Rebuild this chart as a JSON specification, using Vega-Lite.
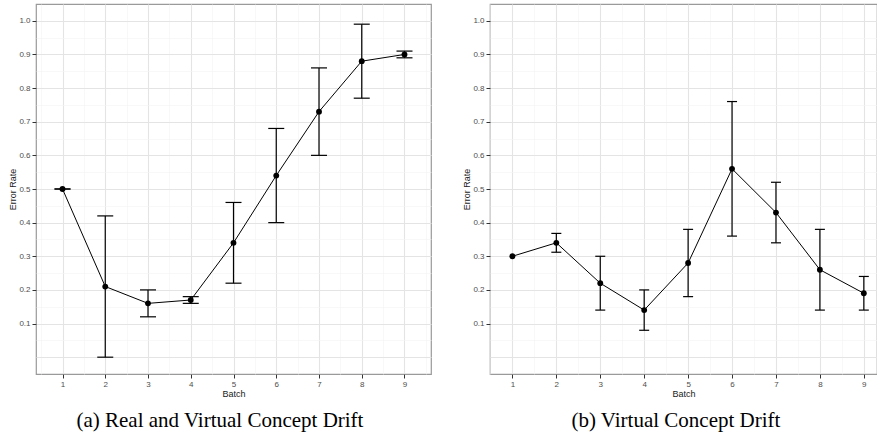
{
  "$schema": "https://vega.github.io/schema/vega-lite/v6.json",
  "padding": {"left": 8, "top": 3, "right": 0, "bottom": 0},
  "background": "white",
  "spacing": 30,
  "datasets": {
    "a": [
      {"batch": 1, "rate": 0.50, "lo": 0.50, "hi": 0.50},
      {"batch": 2, "rate": 0.21, "lo": 0.00, "hi": 0.42},
      {"batch": 3, "rate": 0.16, "lo": 0.12, "hi": 0.20},
      {"batch": 4, "rate": 0.17, "lo": 0.16, "hi": 0.18},
      {"batch": 5, "rate": 0.34, "lo": 0.22, "hi": 0.46},
      {"batch": 6, "rate": 0.54, "lo": 0.40, "hi": 0.68},
      {"batch": 7, "rate": 0.73, "lo": 0.60, "hi": 0.86},
      {"batch": 8, "rate": 0.88, "lo": 0.77, "hi": 0.99},
      {"batch": 9, "rate": 0.90, "lo": 0.89, "hi": 0.91}
    ],
    "b": [
      {"batch": 1, "rate": 0.30, "lo": null, "hi": null},
      {"batch": 2, "rate": 0.34, "lo": 0.312, "hi": 0.368},
      {"batch": 3, "rate": 0.22, "lo": 0.14, "hi": 0.30},
      {"batch": 4, "rate": 0.14, "lo": 0.08, "hi": 0.20},
      {"batch": 5, "rate": 0.28, "lo": 0.18, "hi": 0.38},
      {"batch": 6, "rate": 0.56, "lo": 0.36, "hi": 0.76},
      {"batch": 7, "rate": 0.43, "lo": 0.34, "hi": 0.52},
      {"batch": 8, "rate": 0.26, "lo": 0.14, "hi": 0.38},
      {"batch": 9, "rate": 0.19, "lo": 0.14, "hi": 0.24}
    ]
  },
  "config": {
    "view": {"stroke": "#9a9a9a", "strokeWidth": 1.2},
    "axis": {
      "domain": false,
      "labelFont": "Liberation Sans",
      "labelFontSize": 8,
      "labelColor": "#4d4d4d",
      "tickColor": "#333333",
      "tickSize": 4,
      "labelPadding": 2,
      "titleFont": "Liberation Sans",
      "titleFontSize": 9,
      "titleFontWeight": "normal",
      "titleColor": "#1a1a1a"
    },
    "title": {"font": "Liberation Serif", "fontSize": 21, "fontWeight": "normal", "color": "black"}
  },
  "hconcat": [
    {
      "width": 395,
      "height": 370,
      "data": {"name": "a"},
      "title": {"text": "(a) Real and Virtual Concept Drift", "orient": "bottom", "frame": "bounds", "anchor": "middle", "offset": 12},
      "encoding": {
        "x": {
          "field": "batch", "type": "quantitative",
          "scale": {"domain": [0.38, 9.62], "nice": false, "zero": false},
          "axis": {
            "title": "Batch", "titlePadding": 1,
            "values": [0.5, 1, 1.5, 2, 2.5, 3, 3.5, 4, 4.5, 5, 5.5, 6, 6.5, 7, 7.5, 8, 8.5, 9, 9.5],
            "labelExpr": "datum.value % 1 == 0 ? format(datum.value, 'd') : ''",
            "tickOpacity": {"condition": {"test": "datum.value % 1 != 0", "value": 0}, "value": 1},
            "gridColor": {"condition": {"test": "datum.value % 1 != 0", "value": "#f3f3f3"}, "value": "#e4e4e4"},
            "gridWidth": {"condition": {"test": "datum.value % 1 != 0", "value": 0.6}, "value": 1.1}
          }
        }
      },
      "layer": [
        {
          "mark": {"type": "rule", "color": "black", "strokeWidth": 1.2},
          "encoding": {
            "y": {"field": "lo", "type": "quantitative", "scale": {"domain": [-0.05, 1.05], "nice": false, "zero": false},
              "axis": {"title": "Error Rate", "titlePadding": 1,
                "values": [0, 0.05, 0.1, 0.15, 0.2, 0.25, 0.3, 0.35, 0.4, 0.45, 0.5, 0.55, 0.6, 0.65, 0.7, 0.75, 0.8, 0.85, 0.9, 0.95, 1.0],
                "labelExpr": "(round(datum.value*20) % 2 == 0 && datum.value > 0.05) ? format(datum.value, '.1f') : ''",
                "tickOpacity": {"condition": {"test": "round(datum.value*20) % 2 == 1 || datum.value < 0.05", "value": 0}, "value": 1},
                "gridColor": {"condition": {"test": "round(datum.value*20) % 2 == 1", "value": "#f3f3f3"}, "value": "#e4e4e4"},
                "gridWidth": {"condition": {"test": "round(datum.value*20) % 2 == 1", "value": 0.6}, "value": 1.1}}},
            "y2": {"field": "hi"}
          }
        },
        {
          "mark": {"type": "tick", "orient": "horizontal", "size": 16, "thickness": 1.2, "color": "black", "opacity": 1},
          "encoding": {
            "y": {"field": "lo", "type": "quantitative", "scale": {"domain": [-0.05, 1.05], "nice": false, "zero": false},
              "axis": {"title": "Error Rate", "titlePadding": 1,
                "values": [0, 0.05, 0.1, 0.15, 0.2, 0.25, 0.3, 0.35, 0.4, 0.45, 0.5, 0.55, 0.6, 0.65, 0.7, 0.75, 0.8, 0.85, 0.9, 0.95, 1.0],
                "labelExpr": "(round(datum.value*20) % 2 == 0 && datum.value > 0.05) ? format(datum.value, '.1f') : ''",
                "tickOpacity": {"condition": {"test": "round(datum.value*20) % 2 == 1 || datum.value < 0.05", "value": 0}, "value": 1},
                "gridColor": {"condition": {"test": "round(datum.value*20) % 2 == 1", "value": "#f3f3f3"}, "value": "#e4e4e4"},
                "gridWidth": {"condition": {"test": "round(datum.value*20) % 2 == 1", "value": 0.6}, "value": 1.1}}}
          }
        },
        {
          "mark": {"type": "tick", "orient": "horizontal", "size": 16, "thickness": 1.2, "color": "black", "opacity": 1},
          "encoding": {
            "y": {"field": "hi", "type": "quantitative", "scale": {"domain": [-0.05, 1.05], "nice": false, "zero": false},
              "axis": {"title": "Error Rate", "titlePadding": 1,
                "values": [0, 0.05, 0.1, 0.15, 0.2, 0.25, 0.3, 0.35, 0.4, 0.45, 0.5, 0.55, 0.6, 0.65, 0.7, 0.75, 0.8, 0.85, 0.9, 0.95, 1.0],
                "labelExpr": "(round(datum.value*20) % 2 == 0 && datum.value > 0.05) ? format(datum.value, '.1f') : ''",
                "tickOpacity": {"condition": {"test": "round(datum.value*20) % 2 == 1 || datum.value < 0.05", "value": 0}, "value": 1},
                "gridColor": {"condition": {"test": "round(datum.value*20) % 2 == 1", "value": "#f3f3f3"}, "value": "#e4e4e4"},
                "gridWidth": {"condition": {"test": "round(datum.value*20) % 2 == 1", "value": 0.6}, "value": 1.1}}}
          }
        },
        {
          "mark": {"type": "line", "color": "black", "strokeWidth": 1},
          "encoding": {
            "y": {"field": "rate", "type": "quantitative", "scale": {"domain": [-0.05, 1.05], "nice": false, "zero": false},
              "axis": {"title": "Error Rate", "titlePadding": 1,
                "values": [0, 0.05, 0.1, 0.15, 0.2, 0.25, 0.3, 0.35, 0.4, 0.45, 0.5, 0.55, 0.6, 0.65, 0.7, 0.75, 0.8, 0.85, 0.9, 0.95, 1.0],
                "labelExpr": "(round(datum.value*20) % 2 == 0 && datum.value > 0.05) ? format(datum.value, '.1f') : ''",
                "tickOpacity": {"condition": {"test": "round(datum.value*20) % 2 == 1 || datum.value < 0.05", "value": 0}, "value": 1},
                "gridColor": {"condition": {"test": "round(datum.value*20) % 2 == 1", "value": "#f3f3f3"}, "value": "#e4e4e4"},
                "gridWidth": {"condition": {"test": "round(datum.value*20) % 2 == 1", "value": 0.6}, "value": 1.1}}}
          }
        },
        {
          "mark": {"type": "circle", "color": "black", "size": 34, "opacity": 1},
          "encoding": {
            "y": {"field": "rate", "type": "quantitative", "scale": {"domain": [-0.05, 1.05], "nice": false, "zero": false},
              "axis": {"title": "Error Rate", "titlePadding": 1,
                "values": [0, 0.05, 0.1, 0.15, 0.2, 0.25, 0.3, 0.35, 0.4, 0.45, 0.5, 0.55, 0.6, 0.65, 0.7, 0.75, 0.8, 0.85, 0.9, 0.95, 1.0],
                "labelExpr": "(round(datum.value*20) % 2 == 0 && datum.value > 0.05) ? format(datum.value, '.1f') : ''",
                "tickOpacity": {"condition": {"test": "round(datum.value*20) % 2 == 1 || datum.value < 0.05", "value": 0}, "value": 1},
                "gridColor": {"condition": {"test": "round(datum.value*20) % 2 == 1", "value": "#f3f3f3"}, "value": "#e4e4e4"},
                "gridWidth": {"condition": {"test": "round(datum.value*20) % 2 == 1", "value": 0.6}, "value": 1.1}}}
          }
        }
      ]
    },
    {
      "width": 387,
      "height": 370,
      "data": {"name": "b"},
      "title": {"text": "(b) Virtual Concept Drift", "orient": "bottom", "frame": "bounds", "anchor": "middle", "offset": 12, "dx": 6},
      "encoding": {
        "x": {
          "field": "batch", "type": "quantitative",
          "scale": {"domain": [0.49, 9.3], "nice": false, "zero": false},
          "axis": {
            "title": "Batch", "titlePadding": 1,
            "values": [0.5, 1, 1.5, 2, 2.5, 3, 3.5, 4, 4.5, 5, 5.5, 6, 6.5, 7, 7.5, 8, 8.5, 9],
            "labelExpr": "datum.value % 1 == 0 ? format(datum.value, 'd') : ''",
            "tickOpacity": {"condition": {"test": "datum.value % 1 != 0", "value": 0}, "value": 1},
            "gridColor": {"condition": {"test": "datum.value % 1 != 0", "value": "#f3f3f3"}, "value": "#e4e4e4"},
            "gridWidth": {"condition": {"test": "datum.value % 1 != 0", "value": 0.6}, "value": 1.1}
          }
        }
      },
      "layer": [
        {
          "transform": [{"filter": "datum.lo != null"}],
          "mark": {"type": "rule", "color": "black", "strokeWidth": 1.2},
          "encoding": {
            "y": {"field": "lo", "type": "quantitative", "scale": {"domain": [-0.05, 1.05], "nice": false, "zero": false},
              "axis": {"title": "Error Rate", "titlePadding": 1,
                "values": [0, 0.05, 0.1, 0.15, 0.2, 0.25, 0.3, 0.35, 0.4, 0.45, 0.5, 0.55, 0.6, 0.65, 0.7, 0.75, 0.8, 0.85, 0.9, 0.95, 1.0],
                "labelExpr": "(round(datum.value*20) % 2 == 0 && datum.value > 0.05) ? format(datum.value, '.1f') : ''",
                "tickOpacity": {"condition": {"test": "round(datum.value*20) % 2 == 1 || datum.value < 0.05", "value": 0}, "value": 1},
                "gridColor": {"condition": {"test": "round(datum.value*20) % 2 == 1", "value": "#f3f3f3"}, "value": "#e4e4e4"},
                "gridWidth": {"condition": {"test": "round(datum.value*20) % 2 == 1", "value": 0.6}, "value": 1.1}}},
            "y2": {"field": "hi"}
          }
        },
        {
          "transform": [{"filter": "datum.lo != null"}],
          "mark": {"type": "tick", "orient": "horizontal", "size": 10, "thickness": 1.2, "color": "black", "opacity": 1},
          "encoding": {
            "y": {"field": "lo", "type": "quantitative", "scale": {"domain": [-0.05, 1.05], "nice": false, "zero": false},
              "axis": {"title": "Error Rate", "titlePadding": 1,
                "values": [0, 0.05, 0.1, 0.15, 0.2, 0.25, 0.3, 0.35, 0.4, 0.45, 0.5, 0.55, 0.6, 0.65, 0.7, 0.75, 0.8, 0.85, 0.9, 0.95, 1.0],
                "labelExpr": "(round(datum.value*20) % 2 == 0 && datum.value > 0.05) ? format(datum.value, '.1f') : ''",
                "tickOpacity": {"condition": {"test": "round(datum.value*20) % 2 == 1 || datum.value < 0.05", "value": 0}, "value": 1},
                "gridColor": {"condition": {"test": "round(datum.value*20) % 2 == 1", "value": "#f3f3f3"}, "value": "#e4e4e4"},
                "gridWidth": {"condition": {"test": "round(datum.value*20) % 2 == 1", "value": 0.6}, "value": 1.1}}}
          }
        },
        {
          "transform": [{"filter": "datum.hi != null"}],
          "mark": {"type": "tick", "orient": "horizontal", "size": 10, "thickness": 1.2, "color": "black", "opacity": 1},
          "encoding": {
            "y": {"field": "hi", "type": "quantitative", "scale": {"domain": [-0.05, 1.05], "nice": false, "zero": false},
              "axis": {"title": "Error Rate", "titlePadding": 1,
                "values": [0, 0.05, 0.1, 0.15, 0.2, 0.25, 0.3, 0.35, 0.4, 0.45, 0.5, 0.55, 0.6, 0.65, 0.7, 0.75, 0.8, 0.85, 0.9, 0.95, 1.0],
                "labelExpr": "(round(datum.value*20) % 2 == 0 && datum.value > 0.05) ? format(datum.value, '.1f') : ''",
                "tickOpacity": {"condition": {"test": "round(datum.value*20) % 2 == 1 || datum.value < 0.05", "value": 0}, "value": 1},
                "gridColor": {"condition": {"test": "round(datum.value*20) % 2 == 1", "value": "#f3f3f3"}, "value": "#e4e4e4"},
                "gridWidth": {"condition": {"test": "round(datum.value*20) % 2 == 1", "value": 0.6}, "value": 1.1}}}
          }
        },
        {
          "mark": {"type": "line", "color": "black", "strokeWidth": 1},
          "encoding": {
            "y": {"field": "rate", "type": "quantitative", "scale": {"domain": [-0.05, 1.05], "nice": false, "zero": false},
              "axis": {"title": "Error Rate", "titlePadding": 1,
                "values": [0, 0.05, 0.1, 0.15, 0.2, 0.25, 0.3, 0.35, 0.4, 0.45, 0.5, 0.55, 0.6, 0.65, 0.7, 0.75, 0.8, 0.85, 0.9, 0.95, 1.0],
                "labelExpr": "(round(datum.value*20) % 2 == 0 && datum.value > 0.05) ? format(datum.value, '.1f') : ''",
                "tickOpacity": {"condition": {"test": "round(datum.value*20) % 2 == 1 || datum.value < 0.05", "value": 0}, "value": 1},
                "gridColor": {"condition": {"test": "round(datum.value*20) % 2 == 1", "value": "#f3f3f3"}, "value": "#e4e4e4"},
                "gridWidth": {"condition": {"test": "round(datum.value*20) % 2 == 1", "value": 0.6}, "value": 1.1}}}
          }
        },
        {
          "mark": {"type": "circle", "color": "black", "size": 34, "opacity": 1},
          "encoding": {
            "y": {"field": "rate", "type": "quantitative", "scale": {"domain": [-0.05, 1.05], "nice": false, "zero": false},
              "axis": {"title": "Error Rate", "titlePadding": 1,
                "values": [0, 0.05, 0.1, 0.15, 0.2, 0.25, 0.3, 0.35, 0.4, 0.45, 0.5, 0.55, 0.6, 0.65, 0.7, 0.75, 0.8, 0.85, 0.9, 0.95, 1.0],
                "labelExpr": "(round(datum.value*20) % 2 == 0 && datum.value > 0.05) ? format(datum.value, '.1f') : ''",
                "tickOpacity": {"condition": {"test": "round(datum.value*20) % 2 == 1 || datum.value < 0.05", "value": 0}, "value": 1},
                "gridColor": {"condition": {"test": "round(datum.value*20) % 2 == 1", "value": "#f3f3f3"}, "value": "#e4e4e4"},
                "gridWidth": {"condition": {"test": "round(datum.value*20) % 2 == 1", "value": 0.6}, "value": 1.1}}}
          }
        }
      ]
    }
  ]
}
